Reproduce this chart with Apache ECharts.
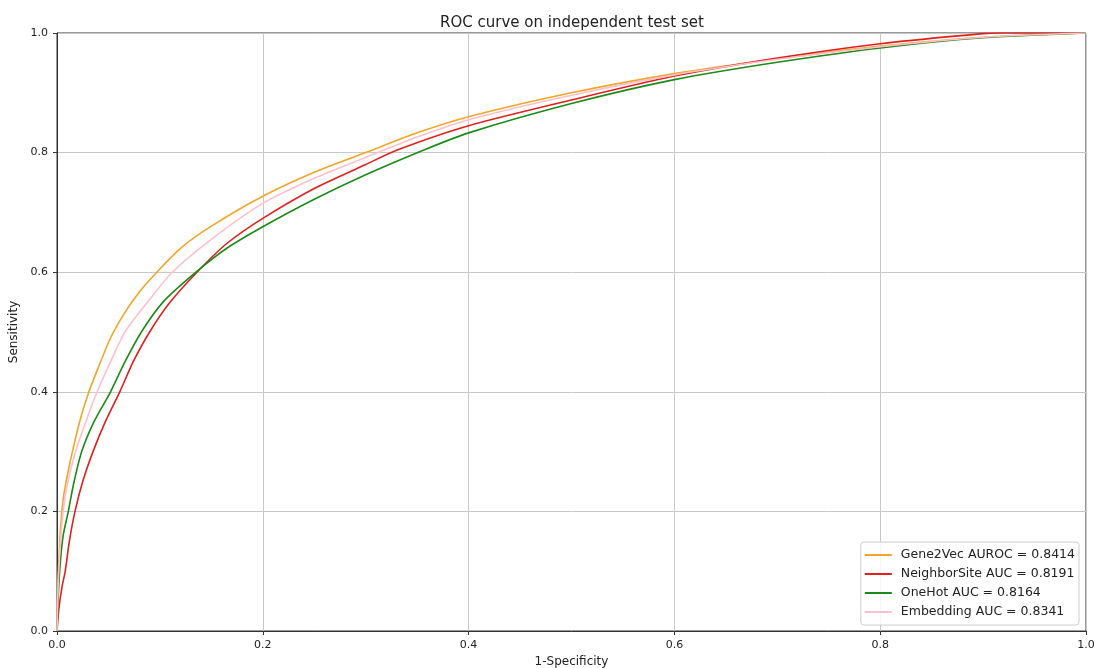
<!DOCTYPE html>
<html>
<head>
<meta charset="utf-8">
<script src="https://cdn.jsdelivr.net/npm/echarts@6/dist/echarts.min.js"></script>
<style>
  html, body { margin: 0; padding: 0; background: #fff; }
  #myChart { width: 1096px; height: 668px; }
</style>
</head>
<body>
<div id="myChart"></div>
<script>
// ROC points: [1-specificity, sensitivity]
let gene2vec = [[0,0],[0.001,0.08],[0.003,0.16],[0.006,0.22],[0.01,0.26],[0.015,0.30],[0.022,0.35],[0.031,0.40],[0.04,0.44],[0.052,0.49],[0.065,0.53],[0.08,0.567],[0.097,0.60],[0.12,0.64],[0.15,0.677],[0.2,0.727],[0.25,0.767],[0.3,0.80],[0.35,0.833],[0.4,0.86],[0.5,0.90],[0.6,0.932],[0.7,0.957],[0.8,0.978],[0.9,0.993],[1,1]];
let neighborSite = [[0,0],[0.002,0.04],[0.005,0.075],[0.008,0.10],[0.012,0.15],[0.0175,0.20],[0.025,0.25],[0.035,0.30],[0.047,0.35],[0.061,0.40],[0.074,0.45],[0.09,0.50],[0.11,0.55],[0.136,0.60],[0.165,0.648],[0.2,0.69],[0.25,0.74],[0.3,0.78],[0.33,0.804],[0.4,0.845],[0.5,0.888],[0.6,0.928],[0.7,0.958],[0.8,0.982],[0.9,0.999],[0.92,1],[1,1]];
let oneHot = [[0,0],[0.001,0.05],[0.003,0.11],[0.006,0.16],[0.011,0.2],[0.016,0.245],[0.024,0.30],[0.036,0.35],[0.052,0.40],[0.066,0.45],[0.082,0.50],[0.103,0.55],[0.135,0.60],[0.165,0.64],[0.2,0.676],[0.25,0.722],[0.3,0.763],[0.356,0.804],[0.4,0.833],[0.5,0.882],[0.6,0.922],[0.7,0.951],[0.8,0.975],[0.9,0.992],[1,1]];
let embedding = [[0,0],[0.001,0.07],[0.003,0.14],[0.006,0.2],[0.01,0.245],[0.018,0.30],[0.028,0.35],[0.039,0.40],[0.052,0.45],[0.066,0.50],[0.088,0.55],[0.112,0.60],[0.15,0.655],[0.2,0.715],[0.25,0.757],[0.3,0.792],[0.35,0.826],[0.4,0.855],[0.5,0.896],[0.6,0.93],[0.7,0.956],[0.8,0.977],[0.9,0.993],[1,1]];

let seriesNames = ['Gene2Vec AUROC = 0.8414', 'NeighborSite AUC = 0.8191', 'OneHot AUC = 0.8164', 'Embedding AUC = 0.8341'];
let colors = ['#f2a527', '#e0201e', '#1a8a1a', '#ffc0cb'];

let font = 'DejaVu Sans';
let gridLine = { show: true, lineStyle: { color: '#c8c8c8', width: 1 } };

let chart = echarts.init(document.getElementById('myChart'));
chart.setOption({
  animation: false,
  color: colors,
  textStyle: { fontFamily: font },
  title: {
    text: 'ROC curve on independent test set',
    left: 567, top: 11, textAlign: 'center',
    textStyle: { fontFamily: font, fontSize: 15, fontWeight: 'normal', color: '#222' }
  },
  grid: {
    left: 57, right: 10, top: 33, bottom: 37,
    outerBoundsMode: 'none', containLabel: false,
    show: true, borderColor: '#333', borderWidth: 1
  },
  xAxis: {
    type: 'value', min: 0, max: 1, interval: 0.2,
    name: '1-Specificity', nameLocation: 'middle', nameGap: 25,
    nameTextStyle: { fontFamily: font, fontSize: 12, color: '#222' },
    axisLine: { show: true, lineStyle: { color: '#333' } },
    axisTick: { show: true, length: 4, lineStyle: { color: '#333' } },
    axisLabel: { fontFamily: font, fontSize: 11, color: '#222', margin: 9, formatter: v => v.toFixed(1) },
    splitLine: gridLine
  },
  yAxis: {
    type: 'value', min: 0, max: 1, interval: 0.2,
    name: 'Sensitivity', nameLocation: 'middle', nameGap: 32,
    nameTextStyle: { fontFamily: font, fontSize: 12, color: '#222' },
    axisLine: { show: true, lineStyle: { color: '#333' } },
    axisTick: { show: true, length: 4, lineStyle: { color: '#333' } },
    axisLabel: { fontFamily: font, fontSize: 11, color: '#222', margin: 9, formatter: v => v.toFixed(1) },
    splitLine: gridLine
  },
  legend: {
    orient: 'vertical', right: 17, bottom: 43,
    icon: 'rect', itemWidth: 27, itemHeight: 2, itemGap: 5,
    padding: [6, 4, 6, 4],
    backgroundColor: 'rgba(255,255,255,0.85)', borderColor: '#cccccc', borderWidth: 1, borderRadius: 3,
    textStyle: { fontFamily: font, fontSize: 12.5, color: '#222', lineHeight: 14, padding: [0, 0, 0, 4] },
    data: seriesNames
  },
  series: [gene2vec, neighborSite, oneHot, embedding].map((d, i) => ({
    name: seriesNames[i],
    type: 'line',
    data: d,
    showSymbol: false,
    smooth: 0.25,
    lineStyle: { width: 1.6, color: colors[i] },
    itemStyle: { color: colors[i] }
  }))
});
</script>
</body>
</html>
